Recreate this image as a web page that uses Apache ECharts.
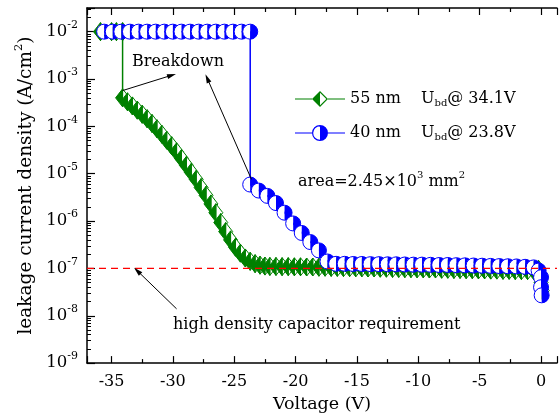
<!DOCTYPE html>
<html><head><meta charset="utf-8">
<script src="https://cdn.jsdelivr.net/npm/echarts@6/dist/echarts.min.js"></script>
<style>html,body{margin:0;padding:0;background:#fff}#c{width:560px;height:418px}</style>
</head><body><div id="c"></div>
<script>
// ---- data (Voltage V, current density A/cm^2) ----
const v55 = [-35.9,-35.0,-34.6,-34.1,-34.1,-33.7,-33.3,-32.9,-32.5,-32.1,-31.7,-31.3,-30.9,-30.5,-30.1,-29.7,-29.3,-28.9,-28.5,-28.1,-27.7,-27.3,-26.9,-26.5,-26.1,-25.7,-25.3,-24.9,-24.5,-24.1,-23.7,-23.3,-22.9,-22.5,-22.1,-21.6,-21.1,-20.6,-20.1,-19.6,-19.1,-18.6,-18.1,-17.6,-17.1,-16.6,-16.1,-15.6,-15.1,-14.6,-14.1,-13.6,-13.1,-12.6,-12.1,-11.6,-11.1,-10.6,-10.1,-9.6,-9.1,-8.6,-8.1,-7.6,-7.1,-6.6,-6.1,-5.6,-5.1,-4.6,-4.1,-3.6,-3.1,-2.6,-2.1,-1.6,-1.1,-0.6,-0.2,0.0,0.1];
const j55 = [1.0e-2,1.0e-2,1.0e-2,1.0e-2,4.0e-4,3.3e-4,2.7e-4,2.2e-4,1.8e-4,1.45e-4,1.15e-4,8.9e-5,6.8e-5,5.1e-5,3.9e-5,2.9e-5,2.1e-5,1.5e-5,1.07e-5,7.6e-6,5.1e-6,3.5e-6,2.3e-6,1.5e-6,9.3e-7,6.0e-7,4.0e-7,2.8e-7,2.1e-7,1.66e-7,1.41e-7,1.26e-7,1.17e-7,1.12e-7,1.10e-7,1.10e-7,1.09e-7,1.09e-7,1.08e-7,1.08e-7,1.07e-7,1.07e-7,1.06e-7,1.06e-7,1.05e-7,1.05e-7,1.04e-7,1.04e-7,1.03e-7,1.03e-7,1.02e-7,1.02e-7,1.01e-7,1.01e-7,1.00e-7,1.00e-7,9.9e-8,9.9e-8,9.8e-8,9.8e-8,9.7e-8,9.7e-8,9.6e-8,9.6e-8,9.5e-8,9.5e-8,9.4e-8,9.4e-8,9.3e-8,9.3e-8,9.2e-8,9.2e-8,9.1e-8,9.1e-8,9.0e-8,9.0e-8,9.0e-8,9.0e-8,9.5e-8,5.0e-8,3.4e-8];
const v40 = [-35.6,-34.9,-34.2,-33.5,-32.8,-32.1,-31.4,-30.7,-30.0,-29.3,-28.6,-27.9,-27.2,-26.5,-25.8,-25.1,-24.4,-23.7,-23.7,-23.0,-22.3,-21.6,-20.9,-20.2,-19.5,-18.8,-18.1,-17.4,-16.7,-16.0,-15.3,-14.6,-13.9,-13.2,-12.5,-11.8,-11.1,-10.4,-9.7,-9.0,-8.3,-7.6,-6.9,-6.2,-5.5,-4.8,-4.1,-3.4,-2.7,-2.0,-1.3,-0.6,-0.2,0.0,0.0,0.05];
const j40 = [1.0e-2,1.0e-2,1.0e-2,1.0e-2,1.0e-2,1.0e-2,1.0e-2,1.0e-2,1.0e-2,1.0e-2,1.0e-2,1.0e-2,1.0e-2,1.0e-2,1.0e-2,1.0e-2,1.0e-2,1.0e-2,5.9e-6,4.4e-6,3.4e-6,2.4e-6,1.5e-6,8.9e-7,5.6e-7,3.6e-7,2.4e-7,1.4e-7,1.25e-7,1.25e-7,1.24e-7,1.24e-7,1.23e-7,1.23e-7,1.22e-7,1.22e-7,1.21e-7,1.20e-7,1.20e-7,1.19e-7,1.18e-7,1.18e-7,1.17e-7,1.16e-7,1.15e-7,1.14e-7,1.13e-7,1.12e-7,1.11e-7,1.10e-7,1.08e-7,1.05e-7,9.0e-8,6.5e-8,4.0e-8,2.7e-8];
const requirement = 1e-7;
const arrowBreak55 = [[-34.1, 5.7e-4], [-30.1, 1.2e-3]];
const arrowBreak40 = [[-23.6, 7.6e-6], [-27.2, 1.03e-3]];
const arrowReq = [[-29.7, 1.4e-8], [-32.9, 8.9e-8]];
const xMin = -37, xMax = 1.3, xTickStep = 5;

const GREEN = '#008000', BLUE = '#0000ff', RED = '#ff0000';
const FONT = '"DejaVu Serif"';
const FF = 'DejaVu Serif';

const d55 = v55.map((v, i) => [v, j55[i]]);
const d40 = v40.map((v, i) => [v, j40[i]]);
const dReq = [[xMin, requirement], [xMax, requirement]];

function diamondItem(params, api) {
  const p = api.coord([api.value(0), api.value(1)]);
  const x = p[0], y = p[1], hw = 7, hh = 9;
  return {type: 'group', children: [
    {type: 'polygon', shape: {points: [[x, y - hh], [x + hw, y], [x, y + hh]]}, style: {fill: '#fff', stroke: GREEN, lineWidth: 1}},
    {type: 'polygon', shape: {points: [[x, y - hh], [x - hw, y], [x, y + hh]]}, style: {fill: GREEN, stroke: GREEN, lineWidth: 1}}
  ]};
}
function circleItem(params, api) {
  const p = api.coord([api.value(0), api.value(1)]);
  const cx = p[0], cy = p[1], r = 7.5;
  return {type: 'group', children: [
    {type: 'sector', shape: {cx, cy, r0: 0, r, startAngle: Math.PI / 2, endAngle: Math.PI * 1.5}, style: {fill: '#fff'}},
    {type: 'sector', shape: {cx, cy, r0: 0, r, startAngle: -Math.PI / 2, endAngle: Math.PI / 2}, style: {fill: BLUE}},
    {type: 'circle', shape: {cx, cy, r}, style: {fill: 'none', stroke: BLUE, lineWidth: 1}}
  ]};
}

const iconDiamond = 'path://M0 7.4H17V8.6H0Z M33 7.4H50V8.6H33Z M25 0L17 8L25 16Z M25 0L33 8L25 16Z M25 1.7L25 14.3L31.3 8Z';
const iconCircle = 'path://M0 7.4H17V8.6H0Z M33 7.4H50V8.6H33Z M25 0A8 8 0 0 1 25 16Z M25 0A8 8 0 0 0 25 16L25 14.8A6.8 6.8 0 0 1 25 1.2Z';

const chart = echarts.init(document.getElementById('c'), null, {renderer: 'canvas'});

const xCommon = {
  type: 'value', min: xMin, max: xMax, splitNumber: 8,
  axisLine: {show: true, onZero: false, lineStyle: {color: '#000', width: 1.5}},
  axisTick: {show: true, inside: true, length: 7, lineStyle: {color: '#000', width: 1.2}},
  minorTick: {show: true, splitNumber: 2, length: 4, lineStyle: {color: '#000', width: 1.2}},
  splitLine: {show: false}, minorSplitLine: {show: false}
};

chart.setOption({
  animation: false,
  backgroundColor: '#fff',
  grid: {left: 87, right: 0, top: 8, bottom: 53},
  xAxis: [
    Object.assign({}, xCommon, {
      position: 'bottom',
      axisLabel: {margin: 11, fontFamily: FF, fontSize: 16, color: '#000',
        formatter: v => (Math.abs(v % xTickStep) < 1e-9 ? String(v) : '')},
      name: 'Voltage (V)', nameLocation: 'middle', nameGap: 31,
      nameTextStyle: {fontFamily: FF, fontSize: 17.5, color: '#000'}
    }),
    Object.assign({}, xCommon, {position: 'top', axisLabel: {show: false}})
  ],
  yAxis: {
    type: 'log', logBase: 10, min: 1e-9, max: 0.0316,
    axisLine: {show: true, onZero: false, lineStyle: {color: '#000', width: 1.5}},
    axisTick: {show: true, inside: true, length: 8, lineStyle: {color: '#000', width: 1.2}},
    minorTick: {show: true, splitNumber: 9, length: 4, lineStyle: {color: '#000', width: 1}},
    splitLine: {show: false},
    axisLabel: {
      margin: 9, color: '#000',
      formatter: v => {
        const e = Math.log10(v), r = Math.round(e);
        if (Math.abs(e - r) > 1e-6) return '';
        return '{b|10}{s|' + r + '}';
      },
      rich: {
        b: {fontFamily: FF, fontSize: 16.5, lineHeight: 24, color: '#000'},
        s: {fontFamily: FF, fontSize: 11, lineHeight: 11, verticalAlign: 'top', color: '#000'}
      }
    },
    name: '{t|leakage current density (A/cm}{s|2}{t|)}', nameLocation: 'middle', nameRotate: 90, nameGap: 44,
    nameTextStyle: {
      rich: {
        t: {fontFamily: FF, fontSize: 18.5, lineHeight: 26, color: '#000'},
        s: {fontFamily: FF, fontSize: 11.5, lineHeight: 11, verticalAlign: 'top', color: '#000'}
      }
    }
  },
  legend: {
    left: 295, top: 80, padding: 0, orient: 'vertical', itemWidth: 50, itemHeight: 16, itemGap: 6,
    selectedMode: false,
    data: [
      {name: '55 nm', icon: iconDiamond, itemStyle: {color: GREEN, borderWidth: 0}},
      {name: '40 nm', icon: iconCircle, itemStyle: {color: BLUE, borderWidth: 0}}
    ],
    formatter: n => n === '55 nm' ? '{n|55 nm}{u|U}{d|bd}{r|@ 34.1V}' : '{n|40 nm}{u|U}{d|bd}{r|@ 23.8V}',
    textStyle: {
      rich: {
        n: {fontFamily: FF, fontSize: 16, width: 71, lineHeight: 18, color: '#000'},
        u: {fontFamily: FF, fontSize: 16, lineHeight: 18, color: '#000'},
        r: {fontFamily: FF, fontSize: 16, lineHeight: 18, color: '#000'},
        d: {fontFamily: FF, fontSize: 10, lineHeight: 10, padding: [18, 0, 0, 0], verticalAlign: 'bottom', color: '#000'}
      }
    }
  },
  series: [
    {name: 'l55', type: 'line', data: d55, showSymbol: false, lineStyle: {color: GREEN, width: 1.5}, z: 2, silent: true},
    {name: '55 nm', type: 'custom', data: d55, renderItem: diamondItem, z: 3, itemStyle: {color: GREEN}, silent: true},
    {name: 'l40', type: 'line', data: d40, showSymbol: false, lineStyle: {color: BLUE, width: 1.5}, z: 4, silent: true},
    {name: '40 nm', type: 'custom', data: d40, renderItem: circleItem, z: 5, itemStyle: {color: BLUE}, silent: true},
    {name: 'req', type: 'line', data: dReq, z: 20, silent: true, showSymbol: false,
      lineStyle: {color: RED, type: [7, 5], width: 1.2}},
    {name: 'arrows', type: 'line', data: [], z: 21, silent: true,
      markLine: {silent: true, z: 21, symbol: ['none', 'triangle'], symbolSize: [5, 9], label: {show: false},
        lineStyle: {color: '#000', width: 1, type: 'solid'},
        data: [
          [{coord: arrowBreak55[0]}, {coord: arrowBreak55[1]}],
          [{coord: arrowBreak40[0]}, {coord: arrowBreak40[1]}],
          [{coord: arrowReq[0]}, {coord: arrowReq[1]}]
        ]}}
  ],
  graphic: [
    {type: 'text', x: 132, y: 62, style: {text: 'Breakdown', font: '16px ' + FONT, fill: '#000', verticalAlign: 'middle'}},
    {type: 'text', x: 298, y: 182, style: {text: '{a|area=2.45×10}{s|3}{a| mm}{s|2}', verticalAlign: 'middle',
      rich: {a: {fontFamily: FF, fontSize: 16, lineHeight: 24, fill: '#000'},
             s: {fontFamily: FF, fontSize: 10, lineHeight: 10, verticalAlign: 'top', fill: '#000'}}}},
    {type: 'text', x: 173, y: 325, style: {text: 'high density capacitor requirement', font: '16px ' + FONT, fill: '#000', verticalAlign: 'middle'}}
  ]
});
</script>
</body></html>
